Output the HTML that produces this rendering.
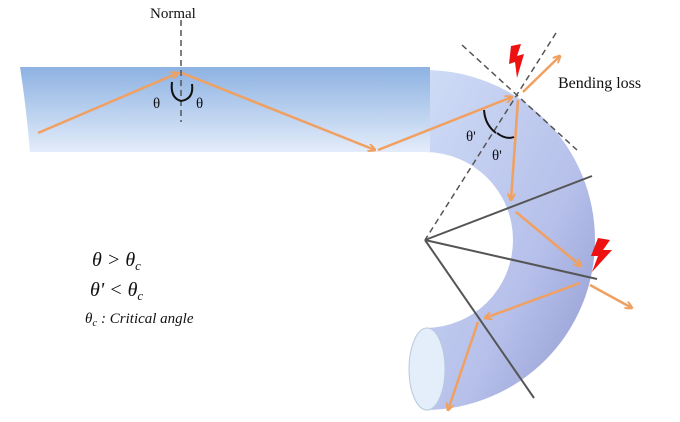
<!DOCTYPE html>
<html><head><meta charset="utf-8"><style>
html,body{margin:0;padding:0;background:#fff;}
svg{display:block;font-family:"Liberation Serif",serif;}
</style></head><body>
<svg width="680" height="422" viewBox="0 0 680 422" xmlns="http://www.w3.org/2000/svg">
<defs>
<linearGradient id="gs" x1="0" y1="0" x2="0" y2="1">
<stop offset="0" stop-color="#8db2e2"/><stop offset="1" stop-color="#e3ecfa"/></linearGradient>
<linearGradient id="gb" x1="0" y1="0" x2="1" y2="1">
<stop offset="0" stop-color="#cfdcf6"/><stop offset="0.6" stop-color="#b6c0ea"/><stop offset="1" stop-color="#8f98cf"/></linearGradient>
<marker id="ar" markerWidth="8" markerHeight="8" refX="7" refY="4" orient="auto" markerUnits="userSpaceOnUse"><path d="M0,0 L8,4 L0,8" fill="none" stroke="#f0a060" stroke-width="2"/></marker>
</defs>
<path d="M425,70 A170,170 0 0 1 425,410 L425,328 A88,88 0 0 0 425,152 Z" fill="url(#gb)"/>
<path d="M20,67 L430,67 L430,152 L30,152 Q26,105 20,67 Z" fill="url(#gs)"/>
<ellipse cx="427" cy="369" rx="18" ry="41" fill="#e4eefa" stroke="#b8c8e0"/>
<g stroke="#555" stroke-width="1.5" stroke-dasharray="6,4">
<line x1="181" y1="20" x2="181" y2="122"/>
<line x1="462" y1="45" x2="577" y2="150"/>
<line x1="556" y1="33" x2="425" y2="240"/>
</g>
<g stroke="#555" stroke-width="2">
<line x1="425" y1="240" x2="592" y2="176"/>
<line x1="425" y1="240" x2="597" y2="279"/>
<line x1="425" y1="240" x2="534" y2="398"/>
</g>
<g stroke="#f0a060" stroke-width="2.5" fill="none" marker-end="url(#ar)">
<line x1="38" y1="133" x2="178" y2="73"/>
<line x1="182" y1="73" x2="375" y2="150"/>
<line x1="378" y1="150" x2="512" y2="97"/>
<line x1="518" y1="100" x2="511" y2="200"/>
<line x1="516" y1="212" x2="581" y2="266"/>
<line x1="580" y1="283" x2="485" y2="318"/>
<line x1="478" y1="322" x2="448" y2="410"/>
<line x1="523" y1="92" x2="560" y2="56"/>
<line x1="590" y1="285" x2="632" y2="308"/>
</g>
<g fill="#ee1111">
<path d="M511,46 L521,44 L517,56 L524,54 L517,78 L515,62 L509,64 Z"/>
<path d="M598,238 L610,240 L603,250 L612,250 L592,272 L598,256 L591,256 Z"/>
</g>
<g fill="none" stroke="#111" stroke-width="2">
<path d="M172,82 Q170,98 181,101"/>
<path d="M181,101 Q194,99 192,84"/>
<path d="M484,110 Q485,125 496,133"/>
<path d="M497,133 Q506,140 514,137"/>
</g>
<g font-size="15" fill="#111">
<text x="150" y="18">Normal</text>
<text x="153" y="108">θ</text>
<text x="196" y="108">θ</text>
<text x="466" y="141">θ'</text>
<text x="492" y="160">θ'</text>
<text x="558" y="88" font-size="16">Bending loss</text>
</g>
<g font-family="'Liberation Serif',serif" font-style="italic" fill="#111">
<text x="92" y="266" font-size="20">θ &gt; θ<tspan font-size="13" dy="4">c</tspan></text>
<text x="90" y="296" font-size="20">θ' &lt; θ<tspan font-size="13" dy="4">c</tspan></text>
<text x="85" y="323" font-size="15">θ<tspan font-size="11" dy="3">c</tspan><tspan dy="-3"> : Critical angle</tspan></text>
</g>
</svg>
</body></html>
